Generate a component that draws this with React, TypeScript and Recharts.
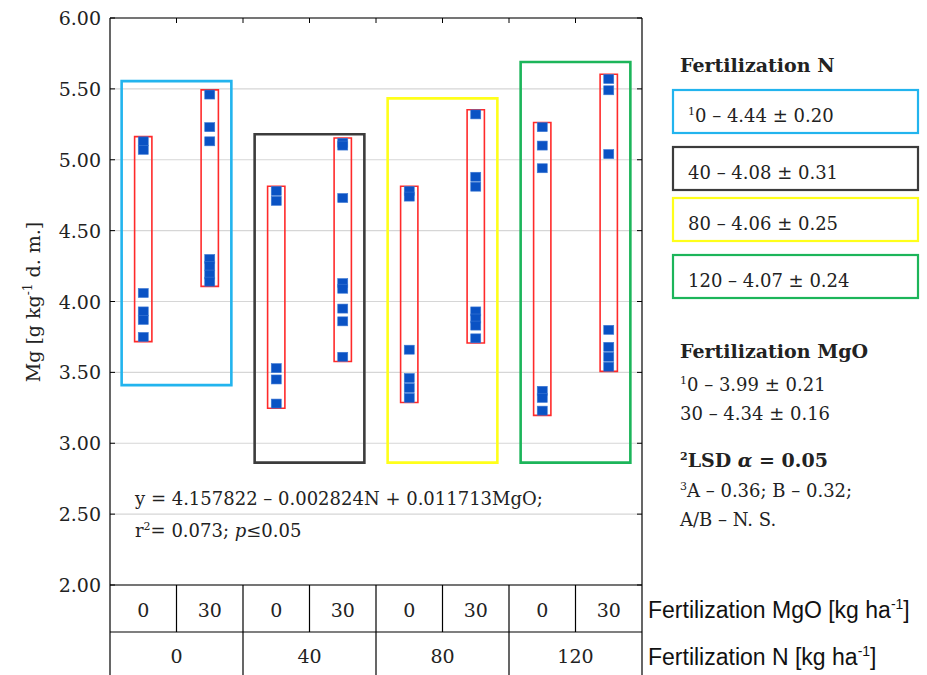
import React from 'react';
import { ComposedChart, Scatter, XAxis, YAxis, CartesianGrid, ReferenceArea } from 'recharts';

// ---------- data ----------
const mgoLevels = ['0', '30'];
const nLevels = ['0', '40', '80', '120'];
const yTicks = [2, 2.5, 3, 3.5, 4, 4.5, 5, 5.5, 6];

const n0mgo0 = [5.13, 5.07, 4.06, 3.93, 3.87, 3.75];
const n0mgo30 = [5.46, 5.23, 5.13, 4.3, 4.25, 4.19, 4.14];
const n40mgo0 = [4.78, 4.71, 3.53, 3.45, 3.28];
const n40mgo30 = [5.12, 5.1, 4.73, 4.13, 4.09, 3.95, 3.86, 3.61];
const n80mgo0 = [4.78, 4.74, 3.66, 3.46, 3.39, 3.32];
const n80mgo30 = [5.32, 4.88, 4.81, 3.93, 3.88, 3.83, 3.74];
const n120mgo0 = [5.23, 5.1, 4.94, 3.37, 3.32, 3.23];
const n120mgo30 = [5.57, 5.49, 5.04, 3.8, 3.68, 3.61, 3.54];

const cells = [n0mgo0, n0mgo30, n40mgo0, n40mgo30, n80mgo0, n80mgo30, n120mgo0, n120mgo30];

const groupBoxTop = [5.555, 5.18, 5.433, 5.69];
const groupBoxBottom = [3.41, 2.863, 2.863, 2.863];
const groupColors = ['#22b4ee', '#3c3c3c', '#ffff1a', '#1cb55a'];

const legendN = ['0 – 4.44 ± 0.20', '40 – 4.08 ± 0.31', '80 – 4.06 ± 0.25', '120 – 4.07 ± 0.24'];

// ---------- style / layout constants ----------
const W = 927;
const H = 675;
const ROW1 = 47;
const ROW2 = 43;
const RANGE_HALF = 0.13;
const RANGE_PAD = 0.033;
const GROUP_INSET = 0.175;
const SERIF = 'DejaVu Serif';
const SANS = 'Liberation Sans';
const TXT = '#222';

const points = cells.flatMap((vals, i) => vals.map((v) => ({ x: i + 0.5, y: v })));

const BlueSquare = (props: any) => {
  const { cx, cy } = props;
  if (cx == null || cy == null) return null;
  return <rect x={cx - 5} y={cy - 4.5} width={10} height={9} fill="#0a52c4" stroke="#3d78d4" strokeWidth={0.6} />;
};

const Nothing = () => <g />;

const LeftTick = (props: any) => {
  const { x, y, payload } = props;
  return (
    <g>
      <line x1={x} x2={x + 5} y1={y} y2={y} stroke="#000" />
      <text x={x - 9} y={y + 7} textAnchor="end" fontFamily={SERIF} fontSize={19} fill={TXT}>
        {Number(payload.value).toFixed(2)}
      </text>
    </g>
  );
};

const RightTick = (props: any) => {
  const { x, y } = props;
  return <line x1={x - 5} x2={x} y1={y} y2={y} stroke="#000" />;
};

const TopTick = (props: any) => {
  const { x, y } = props;
  return <line x1={x} x2={x} y1={y} y2={y + 5} stroke="#000" />;
};

const MgoTick = (props: any) => {
  const { x, y, payload } = props;
  const v = Number(payload.value);
  if (Number.isInteger(v)) {
    return <line x1={x} x2={x} y1={y} y2={y + ROW1} stroke="#000" strokeWidth={1.2} />;
  }
  const idx = Math.floor(v) % 2;
  return (
    <text x={x} y={y + 32} textAnchor="middle" fontFamily={SERIF} fontSize={19} fill={TXT}>
      {mgoLevels[idx]}
    </text>
  );
};

const NTick = (props: any) => {
  const { x, y, payload } = props;
  const v = Number(payload.value);
  if (v % 2 === 0) {
    return <line x1={x} x2={x} y1={y} y2={y + ROW2} stroke="#000" strokeWidth={1.2} />;
  }
  return (
    <text x={x} y={y + 31} textAnchor="middle" fontFamily={SERIF} fontSize={19} fill={TXT}>
      {nLevels[(v - 1) / 2]}
    </text>
  );
};

const mgoTicks = Array.from({ length: 17 }, (_, i) => i / 2);
const nTicks = Array.from({ length: 9 }, (_, i) => i);
const topTicks = [1, 2, 3, 4, 5, 6, 7];

export default function App() {
  return (
    <div style={{ position: 'absolute', left: 0, top: 0, width: W, height: H, overflow: 'hidden', background: '#fff' }}>
      <div style={{ position: 'absolute', left: 0, top: 0 }}>
        <ComposedChart width={W} height={H} data={points} margin={{ top: 17, right: 284, bottom: 0, left: 0 }}>
          <CartesianGrid vertical={false} stroke="#d6d6d6" strokeWidth={1.2} />
          <XAxis
            type="number"
            dataKey="x"
            domain={[0, 8]}
            ticks={mgoTicks}
            interval={0}
            height={ROW1}
            tickSize={0}
            tickMargin={0}
            tickLine={false}
            axisLine={{ stroke: '#000', strokeWidth: 1.2 }}
            tick={<MgoTick />}
            allowDataOverflow
          />
          <XAxis
            xAxisId="n"
            type="number"
            dataKey="x"
            domain={[0, 8]}
            ticks={nTicks}
            interval={0}
            height={ROW2}
            tickSize={0}
            tickMargin={0}
            tickLine={false}
            axisLine={{ stroke: '#000', strokeWidth: 1.2 }}
            tick={<NTick />}
            allowDataOverflow
          />
          <XAxis
            xAxisId="top"
            orientation="top"
            type="number"
            dataKey="x"
            domain={[0, 8]}
            ticks={topTicks}
            interval={0}
            height={1}
            tickSize={0}
            tickMargin={0}
            tickLine={false}
            axisLine={{ stroke: '#000', strokeWidth: 1.2 }}
            tick={<TopTick />}
            allowDataOverflow
          />
          <YAxis
            type="number"
            domain={[2, 6]}
            ticks={yTicks}
            interval={0}
            width={110}
            tickSize={0}
            tickMargin={0}
            tickLine={false}
            axisLine={{ stroke: '#000', strokeWidth: 1.2 }}
            tick={<LeftTick />}
            allowDataOverflow
          />
          <YAxis
            yAxisId="r"
            orientation="right"
            type="number"
            domain={[2, 6]}
            ticks={yTicks}
            interval={0}
            width={1}
            tickSize={0}
            tickMargin={0}
            tickLine={false}
            axisLine={{ stroke: '#000', strokeWidth: 1.2 }}
            tick={<RightTick />}
            allowDataOverflow
          />
          {groupBoxTop.map((top, g) => (
            <ReferenceArea
              key={'g' + g}
              x1={2 * g + GROUP_INSET}
              x2={2 * g + 2 - GROUP_INSET}
              y1={groupBoxBottom[g]}
              y2={top}
              fill="none"
              stroke={groupColors[g]}
              strokeWidth={2.6}
              ifOverflow="visible"
            />
          ))}
          {cells.map((vals, i) => (
            <ReferenceArea
              key={'r' + i}
              x1={i + 0.5 - RANGE_HALF}
              x2={i + 0.5 + RANGE_HALF}
              y1={Math.min(...vals) - RANGE_PAD}
              y2={Math.max(...vals) + RANGE_PAD}
              fill="none"
              stroke="#ff2a2a"
              strokeWidth={1.6}
              ifOverflow="visible"
            />
          ))}
          <Scatter xAxisId="n" dataKey="y" data={points} shape={<Nothing />} isAnimationActive={false} />
          <Scatter xAxisId="top" yAxisId="r" dataKey="y" data={points} shape={<Nothing />} isAnimationActive={false} />
          <Scatter dataKey="y" data={points} shape={<BlueSquare />} isAnimationActive={false} />
        </ComposedChart>
      </div>
      <svg
        width={W}
        height={H}
        style={{ position: 'absolute', left: 0, top: 0, pointerEvents: 'none' }}
        fontFamily={SERIF}
        fill={TXT}
      >
        {/* y axis label */}
        <text transform="rotate(-90 40 302)" x={40} y={302} textAnchor="middle" fontSize={19}>
          Mg [g kg
          <tspan fontSize={12} dy={-8}>-1</tspan>
          <tspan dy={8}> d. m.]</tspan>
        </text>

        {/* regression */}
        <text x={135} y={505} fontSize={18}>y = 4.157822 – 0.002824N + 0.011713MgO;</text>
        <text x={135} y={537} fontSize={18}>
          r<tspan fontSize={11} dy={-7}>2</tspan>
          <tspan dy={7}>= 0.073; </tspan>
          <tspan fontStyle="italic">p</tspan>≤0.05
        </text>

        {/* axis row captions */}
        <text x={648} y={618} fontFamily={SANS} fontSize={23} fill="#111">
          Fertilization MgO [kg ha<tspan fontSize={14} dy={-9}>-1</tspan>
          <tspan dy={9}>]</tspan>
        </text>
        <text x={648} y={665} fontFamily={SANS} fontSize={23} fill="#111">
          Fertilization N [kg ha<tspan fontSize={14} dy={-9}>-1</tspan>
          <tspan dy={9}>]</tspan>
        </text>

        {/* legend N */}
        <text x={680} y={72} fontSize={19} fontWeight="bold">Fertilization N</text>
        {legendN.map((t, i) => {
          const tops = [90, 147, 198, 255];
          return (
            <g key={t}>
              <rect x={673} y={tops[i]} width={245} height={43} fill="none" stroke={groupColors[i]} strokeWidth={2.2} />
              <text x={688} y={tops[i] + 32} fontSize={18}>
                {i === 0 ? (
                  <>
                    <tspan fontSize={11} dy={-7}>1</tspan>
                    <tspan dy={7}>{t}</tspan>
                  </>
                ) : (
                  t
                )}
              </text>
            </g>
          );
        })}

        {/* legend MgO */}
        <text x={680} y={358} fontSize={19} fontWeight="bold">Fertilization MgO</text>
        <text x={680} y={391} fontSize={18}>
          <tspan fontSize={11} dy={-7}>1</tspan>
          <tspan dy={7}>0 – 3.99 ± 0.21</tspan>
        </text>
        <text x={680} y={420} fontSize={18}>30 – 4.34 ± 0.16</text>
        <text x={680} y={467} fontSize={19} fontWeight="bold">
          <tspan fontSize={11} dy={-7}>2</tspan>
          <tspan dy={7}>LSD </tspan>
          <tspan fontStyle="italic">α</tspan> = 0.05
        </text>
        <text x={680} y={497} fontSize={18}>
          <tspan fontSize={11} dy={-7}>3</tspan>
          <tspan dy={7}>A – 0.36; B – 0.32;</tspan>
        </text>
        <text x={680} y={526} fontSize={18}>A/B – N. S.</text>
      </svg>
    </div>
  );
}
